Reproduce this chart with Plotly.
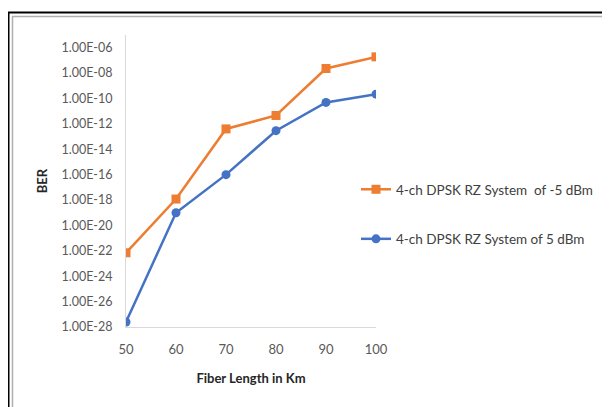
import plotly.graph_objects as go

fiber_km = [50, 60, 70, 80, 90, 100]
ber_minus5dbm = [7e-23, 1.2e-18, 4e-13, 4.6e-12, 2.3e-8, 1.9e-7]
ber_5dbm = [2.5e-28, 1e-19, 1e-16, 2.9e-13, 4.9e-11, 2.2e-10]
series_names = ["4-ch DPSK RZ System  of -5 dBm", "4-ch DPSK RZ System of 5 dBm"]
y_tick_vals = [1e-28, 1e-26, 1e-24, 1e-22, 1e-20, 1e-18, 1e-16, 1e-14, 1e-12, 1e-10, 1e-8, 1e-6]
y_tick_text = ["1.00E-28", "1.00E-26", "1.00E-24", "1.00E-22", "1.00E-20", "1.00E-18",
               "1.00E-16", "1.00E-14", "1.00E-12", "1.00E-10", "1.00E-08", "1.00E-06"]
x_tick_vals = [50, 60, 70, 80, 90, 100]

FONT = "Lato, Calibri, Carlito, sans-serif"

fig = go.Figure()
fig.add_trace(go.Scatter(
    x=fiber_km, y=ber_minus5dbm, name=series_names[0], mode="lines+markers",
    line=dict(color="#ED7D31", width=2.5),
    marker=dict(symbol="square", size=9, color="#ED7D31"),
    legendgroup="a"))
fig.add_trace(go.Scatter(
    x=fiber_km, y=ber_5dbm, name=series_names[1], mode="lines+markers",
    line=dict(color="#4472C4", width=2.5),
    marker=dict(symbol="circle", size=9, color="#4472C4"),
    legendgroup="b"))

OFF = 8  # page body margin
W, H = 610, 407
L, T = 126 - OFF, 35 - OFF
pw, ph = 250, 292
R, B = W - L - pw, H - T - ph

def px(x):
    return (x - OFF - L) / pw

def py(y):
    return (T + ph - (y - OFF)) / ph

shapes = []
shapes.append(dict(type="line", xref="paper", yref="paper", x0=px(8.5), x1=px(8.5), y0=py(12), y1=py(420),
                   line=dict(color="black", width=2)))
shapes.append(dict(type="line", xref="paper", yref="paper", x0=px(8), x1=px(630), y0=py(12.5), y1=py(12.5),
                   line=dict(color="black", width=2)))
shapes.append(dict(type="line", xref="paper", yref="paper", x0=px(12.5), x1=px(12.5), y0=py(16), y1=py(420),
                   line=dict(color="#b0b0b0", width=1.5)))
shapes.append(dict(type="line", xref="paper", yref="paper", x0=px(12), x1=px(630), y0=py(16.5), y1=py(16.5),
                   line=dict(color="#b0b0b0", width=1.5)))

fig.update_layout(
    width=W, height=H,
    margin=dict(l=L, r=R, t=T, b=B, autoexpand=False),
    paper_bgcolor="white", plot_bgcolor="white",
    font=dict(family=FONT, size=12, color="#595959"),
    shapes=shapes,
    showlegend=True,
    legend=dict(x=px(356), y=py(174), xanchor="left", yanchor="top",
                font=dict(family=FONT, size=13.5, color="#404040"),
                tracegroupgap=29, traceorder="grouped", bgcolor="rgba(0,0,0,0)",
                itemwidth=30),
    xaxis=dict(range=[50, 100], tickvals=x_tick_vals, showgrid=False, zeroline=False,
               showline=True, linecolor="#d9d9d9", linewidth=1, ticks="",
               ticklabelstandoff=10, automargin=False,
               tickfont=dict(size=13, color="#595959"),
               title=dict(text="<b>Fiber Length in Km</b>", font=dict(size=13, color="#262626"), standoff=18)),
    yaxis=dict(type="log", range=[-28, -5], tickvals=y_tick_vals, ticktext=y_tick_text,
               showgrid=False, zeroline=False, showline=True, linecolor="#d9d9d9", linewidth=1,
               ticks="", ticklabelstandoff=10, automargin=False,
               tickfont=dict(size=12.5, color="#595959"),
               title=dict(text="<b>BER</b>", font=dict(size=13, color="#262626"), standoff=10)),
)

fig.write_html("out.html")
